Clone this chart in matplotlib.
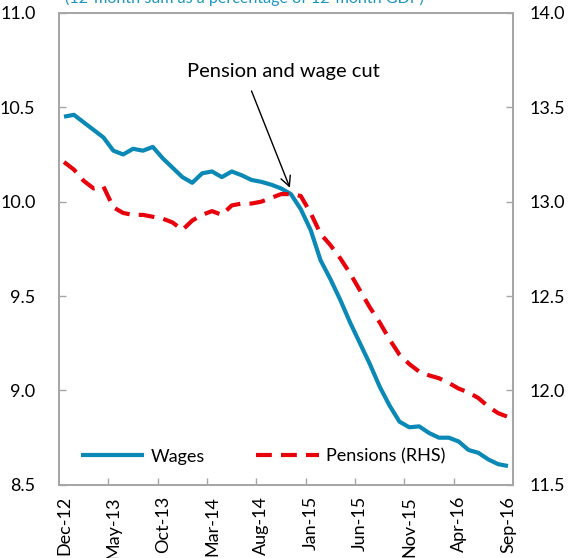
import matplotlib.pyplot as plt
import numpy as np

plt.rcParams['font.family'] = ['Lato', 'DejaVu Sans']

months = ['Dec-12', 'Jan-13', 'Feb-13', 'Mar-13', 'Apr-13', 'May-13', 'Jun-13', 'Jul-13',
          'Aug-13', 'Sep-13', 'Oct-13', 'Nov-13', 'Dec-13', 'Jan-14', 'Feb-14', 'Mar-14',
          'Apr-14', 'May-14', 'Jun-14', 'Jul-14', 'Aug-14', 'Sep-14', 'Oct-14', 'Nov-14',
          'Dec-14', 'Jan-15', 'Feb-15', 'Mar-15', 'Apr-15', 'May-15', 'Jun-15', 'Jul-15',
          'Aug-15', 'Sep-15', 'Oct-15', 'Nov-15', 'Dec-15', 'Jan-16', 'Feb-16', 'Mar-16',
          'Apr-16', 'May-16', 'Jun-16', 'Jul-16', 'Aug-16', 'Sep-16']

wages = [10.45, 10.46, 10.42, 10.38, 10.34, 10.27, 10.25, 10.28, 10.27, 10.29,
         10.23, 10.18, 10.13, 10.10, 10.15, 10.16, 10.13, 10.16, 10.14, 10.115,
         10.105, 10.09, 10.07, 10.04, 9.96, 9.85, 9.69, 9.59, 9.48, 9.36,
         9.25, 9.14, 9.02, 8.92, 8.835, 8.805, 8.81, 8.775, 8.75, 8.75,
         8.73, 8.685, 8.67, 8.635, 8.61, 8.60]

pensions = [13.21, 13.17, 13.11, 13.07, 13.08, 12.97, 12.94, 12.93, 12.93, 12.92,
            12.91, 12.89, 12.85, 12.90, 12.93, 12.95, 12.93, 12.98, 12.99, 12.99,
            13.00, 13.02, 13.04, 13.04, 13.03, 12.94, 12.83, 12.77, 12.70, 12.62,
            12.53, 12.44, 12.36, 12.27, 12.19, 12.14, 12.10, 12.08, 12.065, 12.04,
            12.01, 11.99, 11.96, 11.915, 11.88, 11.86]

x = np.arange(len(months))
grey = '#A6A6A6'
teal = '#0A88B6'
red = '#E8000B'

fig = plt.figure(figsize=(5.68, 5.58), dpi=100)
ax = fig.add_axes([0.104, 0.131, 0.799, 0.846])
ax2 = ax.twinx()

l1, = ax.plot(x, wages, color=teal, lw=3, label='Wages', solid_capstyle='butt')
l2, = ax2.plot(x, pensions, color=red, lw=3, linestyle=(0, (3.8, 2.2)), label='Pensions (RHS)')

ax.set_xlim(-0.5, len(months) - 0.5)
ax.set_ylim(8.5, 11.0)
ax2.set_ylim(11.5, 14.0)
ax.set_yticks(np.arange(8.5, 11.01, 0.5))
ax2.set_yticks(np.arange(11.5, 14.01, 0.5))
ax.set_yticklabels(['%.1f' % v for v in np.arange(8.5, 11.01, 0.5)])
ax2.set_yticklabels(['%.1f' % v for v in np.arange(11.5, 14.01, 0.5)])

# labels on categories, tick marks between groups
ax.set_xticks(x[::5])
ax.set_xticklabels(months[::5], rotation=90)
ax.set_xticks(x[4::5][:-1] + 0.5, minor=True)
ax.tick_params(axis='x', which='major', length=0, labelsize=13, pad=8)
ax.tick_params(axis='x', which='minor', direction='in', length=5, color=grey, width=1)
ax.tick_params(axis='y', direction='in', length=5, color=grey, width=1, labelsize=13, pad=17)
ax2.tick_params(axis='y', direction='in', length=5, color=grey, width=1, labelsize=13, pad=12)

for a in (ax, ax2):
    for s in a.spines.values():
        s.set_color(grey)
        s.set_linewidth(1.3)

ax.annotate('', xy=(23, 10.06), xytext=(18.9, 10.60),
            arrowprops=dict(arrowstyle='->', color='black', lw=1, mutation_scale=18))
ax.text(22.2, 10.69, 'Pension and wage cut', ha='center', va='center', fontsize=14.5)

ax.legend([l1, l2], ['Wages', 'Pensions (RHS)'], loc='center', bbox_to_anchor=(0.45, 0.06),
          ncol=2, frameon=False, fontsize=13, handlelength=3.5, columnspacing=2.8,
          handletextpad=0.4)

fig.text(0.431, 1 - 2.5 / 558, '(12-month sum as a percentage of 12-month GDP)',
         color='#1A95C0', fontsize=11.6, ha='center', va='baseline')

fig.savefig('out.png', dpi=100)
